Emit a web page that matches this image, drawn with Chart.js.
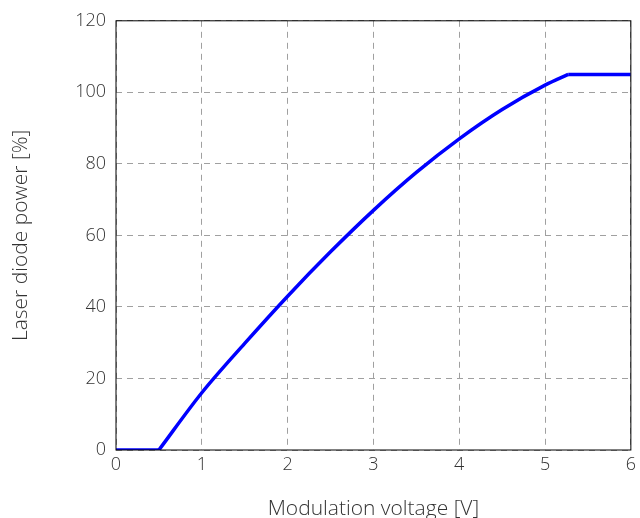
<!DOCTYPE html>
<html>
<head>
<meta charset="utf-8">
<script src="https://cdn.jsdelivr.net/npm/chart.js@4"></script>
<style>
  html,body{margin:0;padding:0;background:#fff}
  #wrap{width:640px;height:518px}
</style>
</head>
<body>
<div id="wrap"><canvas id="grafico"></canvas></div>
<script>
// valori
const voltaggi = [0, 0.5, 1, 1.5, 2, 2.5, 3, 3.5, 4, 4.5, 5, 5.27, 6];
const potenza  = [0, 0, 16, 29.8, 43, 55.4, 67, 77.6, 87, 95.2, 102, 105, 105];
const tickX = [0, 1, 2, 3, 4, 5, 6];
const tickY = [0, 20, 40, 60, 80, 100, 120];

const punti = voltaggi.map((v,i)=>({x:v, y:potenza[i]}));
// tratti: piatto iniziale, curva, piatto finale
const tratti = [punti.slice(0,2), punti.slice(1,12), punti.slice(11)];

const font = {family:"'Open Sans', sans-serif", size:18, weight:'300'};
const fontTitolo = {family:"'Open Sans', sans-serif", size:21, weight:'300'};

const bordo = {
  id:'bordo',
  afterDraw(chart){
    const a = chart.chartArea, ctx = chart.ctx;
    ctx.save();
    ctx.strokeStyle = '#000';
    ctx.lineWidth = 1;
    ctx.strokeRect(a.left, a.top, a.right - a.left, a.bottom - a.top);
    ctx.restore();
  }
};

const ctx = document.getElementById("grafico").getContext("2d");
new Chart(ctx, {
  type:'line',
  data:{
    datasets: tratti.map((t,i)=>({
      data:t,
      borderColor:'#0000ff',
      borderWidth:3.5,
      pointRadius:0,
      cubicInterpolationMode: i==1 ? 'monotone' : 'default',
      tension: i==1 ? 0.4 : 0,
      fill:false
    }))
  },
  options:{
    responsive:true,
    maintainAspectRatio:false,
    animation:false,
    layout:{padding:{top:20, right:7, left:4, bottom:0}},
    plugins:{legend:{display:false}, tooltip:{enabled:false}},
    scales:{
      x:{
        type:'linear', min:0, max:6,
        afterBuildTicks(s){ s.ticks = tickX.map(v=>({value:v})); },
        afterFit(s){ s.height = 68; },
        grid:{color:'#a0a0a0', lineWidth:1, drawTicks:false},
        border:{display:false, dash:[6,5]},
        ticks:{color:'#333', font, padding:4, maxRotation:0},
        title:{display:true, text:'Modulation voltage [V]', color:'#333', font:fontTitolo, padding:{top:8, bottom:-4}}
      },
      y:{
        min:0, max:120,
        afterBuildTicks(s){ s.ticks = tickY.map(v=>({value:v})); },
        afterFit(s){ s.width = 112; },
        grid:{color:'#a0a0a0', lineWidth:1, drawTicks:false},
        border:{display:false, dash:[6,5]},
        ticks:{color:'#333', font, padding:10},
        title:{display:true, text:'Laser diode power [%]', color:'#333', font:fontTitolo, padding:{top:4, bottom:0}}
      }
    }
  },
  plugins:[bordo]
});
</script>
</body>
</html>
